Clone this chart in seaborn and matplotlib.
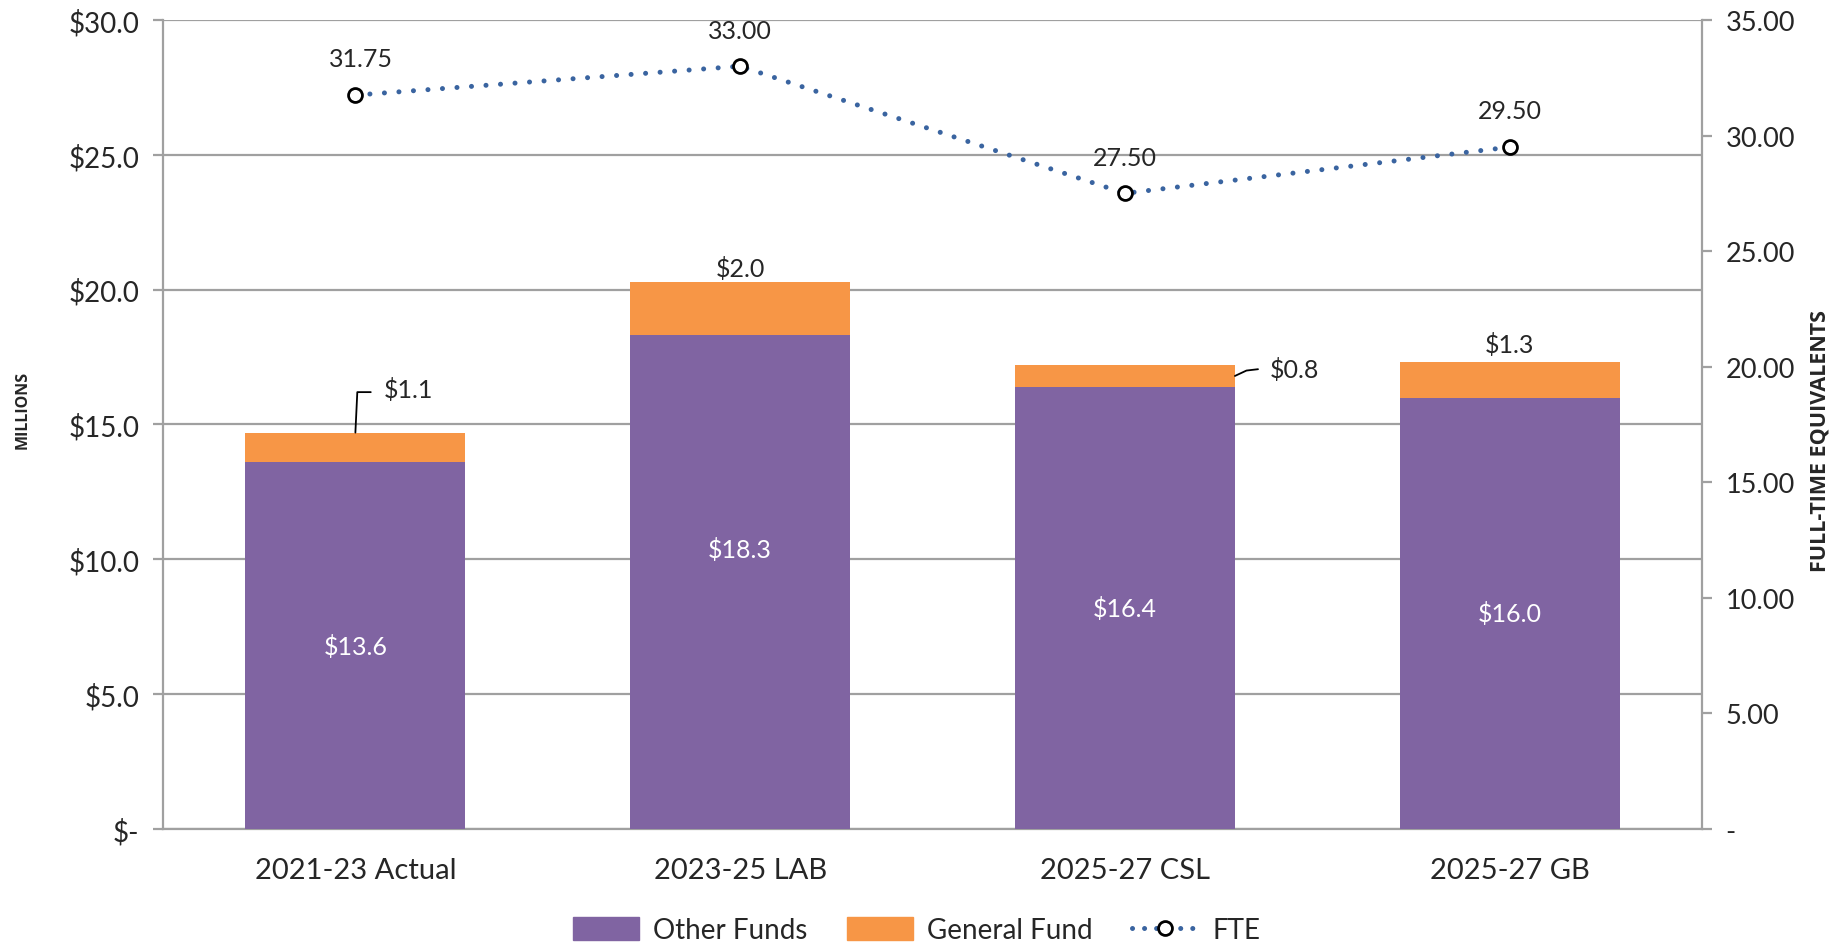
import matplotlib
matplotlib.use("Agg")
import matplotlib.pyplot as plt
import matplotlib.ticker as mticker
from matplotlib.lines import Line2D
from matplotlib.patches import Patch
import seaborn as sns
import pandas as pd
import numpy as np

# data (millions / FTE)
periods = ["2021-23 Actual", "2023-25 LAB", "2025-27 CSL", "2025-27 GB"]
other_funds = [13.6, 18.3, 16.4, 16.0]
general_fund = [1.1, 2.0, 0.8, 1.3]
fte = [31.75, 33.00, 27.50, 29.50]

purple = "#8064A2"
orange = "#F79646"
blue = "#3A64A0"
grey = "#A0A0A0"

sns.set_theme(style="white")
plt.rcParams["font.family"] = ["Lato", "DejaVu Sans"]

df = pd.DataFrame({"period": periods, "other": other_funds, "general": general_fund, "fte": fte})
df["total"] = df["other"] + df["general"]

fig = plt.figure(figsize=(18.44, 9.45), dpi=100)
ax = fig.add_axes([0.0884, 0.1217, 0.8346, 0.8561])

w = 0.572
sns.barplot(data=df, x="period", y="total", color=orange, width=w, saturation=1, ax=ax, zorder=2, linewidth=0)
sns.barplot(data=df, x="period", y="other", color=purple, width=w, saturation=1, ax=ax, zorder=3, linewidth=0)

ax.set_xlim(-0.5, 3.5)
ax.set_ylim(0, 30)
ax.yaxis.set_major_locator(mticker.MultipleLocator(5))
ax.yaxis.set_major_formatter(mticker.FuncFormatter(lambda v, p: "$-" if v == 0 else f"${v:.1f}"))
ax.grid(axis="y", color=grey, lw=1.6, zorder=0)
ax.set_axisbelow(True)
for s in ["right", "top"]:
    ax.spines[s].set_visible(False)
for s in ["left", "bottom"]:
    ax.spines[s].set_color(grey)
    ax.spines[s].set_linewidth(1.6)
ax.tick_params(axis="y", which="major", left=True, length=7, width=1.6, color=grey, labelsize=20, pad=10)
ax.tick_params(axis="x", bottom=False, labelsize=21, pad=14)
ax.set_xlabel("")
ax.set_ylabel("")
fig.text(0.012, 0.566, "MILLIONS", rotation=90, fontsize=11.5, fontweight="bold",
         family=["Open Sans", "DejaVu Sans"], ha="center", va="center")

# value labels inside the purple segment
for i, r in df.iterrows():
    ymid = r["other"] / 2
    if i == 1:
        ymid = r["other"] * 0.567
    ax.text(i, ymid, f"${r['other']:.1f}", color="white", fontsize=18, ha="center", va="center", zorder=5)

# general fund labels
ax.text(1, df.loc[1, "total"] + 0.05, f"${df.loc[1, 'general']:.1f}", fontsize=18, ha="center", va="bottom", zorder=5)
ax.text(3, df.loc[3, "total"] + 0.25, f"${df.loc[3, 'general']:.1f}", fontsize=18, ha="center", va="bottom", zorder=5)
# leader for bar 0
t0 = df.loc[0, "total"]
ax.plot([0, 0.005, 0.04], [t0, t0 + 1.5, t0 + 1.5], color="black", lw=1.3, zorder=5)
ax.text(0.075, t0 + 1.6, f"${df.loc[0, 'general']:.1f}", fontsize=18, ha="left", va="center", zorder=5)
# leader for bar 2
t2 = df.loc[2, "total"] - df.loc[2, "general"] / 2
ax.plot([2 + w / 2, 2 + w / 2 + 0.03, 2 + w / 2 + 0.06], [t2, t2 + 0.2, t2 + 0.25], color="black", lw=1.3, zorder=5)
ax.text(2 + w / 2 + 0.09, t2 + 0.25, f"${df.loc[2, 'general']:.1f}", fontsize=18, ha="left", va="center", zorder=5)

# FTE on secondary axis
ax2 = ax.twinx()
ax2.set_ylim(0, 35)
ax2.yaxis.set_major_locator(mticker.MultipleLocator(5))
ax2.yaxis.set_major_formatter(mticker.FuncFormatter(lambda v, p: "-" if v == 0 else f"{v:.2f}"))
for s in ["left", "top", "bottom"]:
    ax2.spines[s].set_visible(False)
ax2.spines["right"].set_color(grey)
ax2.spines["right"].set_linewidth(1.6)
ax2.tick_params(axis="y", right=True, length=7, width=1.6, color=grey, labelsize=19.5, pad=10)
ax2.grid(False)
sns.lineplot(x=np.arange(len(fte)), y=df["fte"], ax=ax2, color=blue, lw=3.6, sort=False,
             dashes=False, legend=False, zorder=4)
ax2.lines[-1].set_linestyle((0, (0.01, 2.9)))
ax2.lines[-1].set_dash_capstyle("round")
ax2.plot(np.arange(len(fte)), df["fte"], ls="none", marker="o", ms=10, mfc="white", mec="black", mew=2, zorder=6)
ax2.set_ylabel("")
for i, v in enumerate(fte):
    ax2.annotate(f"{v:.2f}", (i, v), xytext=(4 if i == 0 else 0, 26), textcoords="offset points",
                 ha="center", va="center", fontsize=18, zorder=6)
fig.text(0.987, 0.533, "FULL-TIME EQUIVALENTS", rotation=90, fontsize=15.5, fontweight="bold",
         family=["Open Sans", "DejaVu Sans"], ha="center", va="center")

handles = [Patch(color=purple, label="Other Funds"), Patch(color=orange, label="General Fund"),
           Line2D([0], [0], color=blue, lw=3.6, ls=(0, (0.01, 2.4)), dash_capstyle="round", marker="o",
                  ms=10, mfc="white", mec="black", mew=2, label="FTE")]
fig.legend(handles=handles, loc="center", bbox_to_anchor=(0.497, 0.0145), ncol=3, frameon=False,
           fontsize=20, handlelength=2.4, handleheight=0.9, columnspacing=1.4, handletextpad=0.5)

fig.savefig("out.png", dpi=100)
